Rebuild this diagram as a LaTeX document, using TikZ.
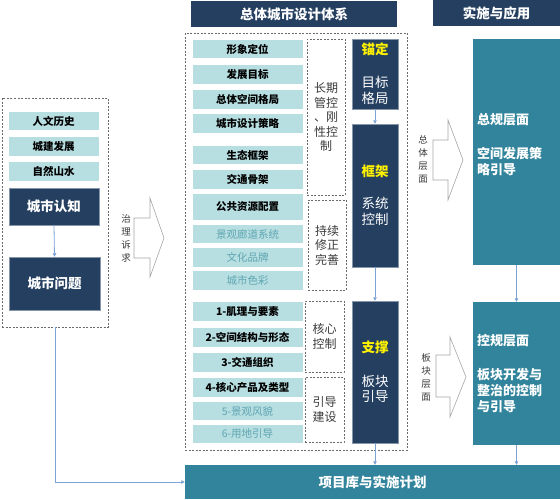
\documentclass[tikz,border=0pt]{standalone}
\usepackage{fontspec}
\setmainfont{Noto Sans CJK SC}
\usetikzlibrary{arrows.meta}
\definecolor{navy}{HTML}{243F60}
\definecolor{lightc}{HTML}{B7DEE1}
\definecolor{tealc}{HTML}{31849B}
\definecolor{graytxt}{HTML}{5FA6B3}
\definecolor{connc}{HTML}{7DA3D6}
\definecolor{dashc}{HTML}{6A6A6A}
\definecolor{arrc}{HTML}{A6A6A6}
\definecolor{labc}{HTML}{3A3A3A}
\begin{document}
\begin{tikzpicture}[x=1pt,y=-1pt,
  lt/.style={fill=lightc, draw=white, line width=0.6pt, inner sep=0pt,
    minimum width=111pt, minimum height=19.5pt,
    font=\fontsize{10.5}{12}\selectfont\bfseries},
  ltl/.style={lt, minimum width=91pt},
  soft/.style={text=graytxt, font=\fontsize{10.5}{12}\selectfont},
  dk/.style={fill=navy, draw=navy!55!white, line width=0.5pt, inner sep=0pt,
    text=white, align=center},
  hdr/.style={fill=navy, inner sep=0pt, text=white,
    font=\fontsize{13.5}{15}\selectfont\bfseries},
  tl/.style={fill=tealc, inner sep=0pt},
  dsh/.style={draw=dashc, dash pattern=on 2pt off 1.5pt, line width=0.6pt, inner sep=0pt},
  dlab/.style={dsh, align=center, text=labc, font=\fontsize{12}{14.5}\selectfont},
  ttx/.style={text=white, align=left, inner sep=0pt,
    font=\fontsize{13}{16}\selectfont\bfseries},
  alab/.style={text=labc, align=center, inner sep=0pt,
    font=\fontsize{9.5}{13}\selectfont},
  blk/.style={draw=arrc, fill=white, line width=0.6pt, line join=miter},
  cn/.style={draw=connc, line width=0.8pt, -{Triangle[length=3.5pt,width=3.5pt]}}
]
\useasboundingbox (0,0) rectangle (560,499);

% ---------- headers ----------
\node[hdr, minimum width=206pt, minimum height=26pt] (H1) at (294,14) {总体城市设计体系};
\node[hdr, minimum width=127pt, minimum height=26pt] (H2) at (496.5,13) {实施与应用};

% ---------- left block ----------
\node[dsh, minimum width=106pt, minimum height=229pt] (lbox) at (55,212.5) {};
\node[ltl] (h1) at (53.5,121) {人文历史};
\node[ltl] (h2) at (53.5,146.5) {城建发展};
\node[ltl] (h3) at (53.5,171.5) {自然山水};
\node[dk, minimum width=90pt, minimum height=37pt, font=\fontsize{13.5}{15}\selectfont\bfseries] (rz) at (54,206.5) {城市认知};
\node[dk, minimum width=91pt, minimum height=53pt, font=\fontsize{13.5}{15}\selectfont\bfseries] (wt) at (54.5,283.5) {城市问题};
\draw[cn] (rz.south) -- (wt.north);

% 治理诉求 arrow
\draw[blk] (134,218) -- (150,218) -- (150,198) -- (164,238) -- (150,277) -- (150,258) -- (134,258) -- cycle;
\node[alab] (zl) at (126,238) {治\\理\\诉\\求};

% ---------- middle block ----------
\node[dsh, minimum width=222pt, minimum height=417pt] (mid) at (296,241.5) {};
\node[lt] (m1) at (247.5,49) {形象定位};
\node[lt] (m2) at (247.5,74.5) {发展目标};
\node[lt] (m3) at (247.5,99.5) {总体空间格局};
\node[lt] (m4) at (247.5,123.5) {城市设计策略};
\node[lt] (m5) at (247.5,155) {生态框架};
\node[lt] (m6) at (247.5,179.5) {交通骨架};
\node[lt, minimum height=27pt] (m7) at (247.5,206.5) {公共资源配置};
\node[lt, soft] (m8) at (247.5,234) {景观廊道系统};
\node[lt, soft] (m9) at (247.5,257.5) {文化品牌};
\node[lt, soft] (m10) at (247.5,280.5) {城市色彩};
\node[lt] (m11) at (247.5,311.5) {1-肌理与要素};
\node[lt] (m12) at (247.5,337.5) {2-空间结构与形态};
\node[lt] (m13) at (247.5,362.5) {3-交通组织};
\node[lt] (m14) at (247.5,387.5) {4-核心产品及类型};
\node[lt, soft] (m15) at (247.5,411) {5-景观风貌};
\node[lt, soft] (m16) at (247.5,434) {6-用地引导};

\node[dlab, minimum width=38pt, minimum height=156pt] (d1) at (326,117) {长期\\管控\\、刚\\性控\\制};
\node[dlab, minimum width=38pt, minimum height=90pt] (d2) at (327,245) {持续\\修正\\完善};
\node[dlab, minimum width=39pt, minimum height=71pt] (d3) at (324.5,336.5) {核心\\控制};
\node[dlab, minimum width=39pt, minimum height=65pt] (d4) at (324.5,409.5) {引导\\建设};

\node[dk, minimum width=46pt, minimum height=70pt, font=\fontsize{13.5}{16.5}\selectfont] (k1) at (375,74)
  {\textcolor{yellow}{\bfseries 锚定}\\[16pt]目标\\格局};
\node[dk, minimum width=46pt, minimum height=143pt, font=\fontsize{13.5}{16}\selectfont] (k2) at (375,195.5)
  {\textcolor{yellow}{\bfseries 框架}\\[16pt]系统\\控制};
\node[dk, minimum width=46pt, minimum height=142pt, font=\fontsize{13.5}{15.5}\selectfont] (k3) at (375,372)
  {\textcolor{yellow}{\bfseries 支撑}\\[18pt]板块\\引导};
\draw[cn] (k1.south) -- (k2.north);
\draw[cn] (k2.south) -- (k3.north);

% ---------- right block ----------
\node[tl, minimum width=87pt, minimum height=226pt] (t1) at (516.5,152) {};
\node[tl, minimum width=87pt, minimum height=143pt] (t2) at (516.5,373.5) {};
\node[ttx, anchor=west] (t1x) at (477,145) {总规层面\\[18pt]空间发展策\\略引导};
\node[ttx, anchor=west] (t2x) at (477,374) {控规层面\\[18pt]板块开发与\\整治的控制\\与引导};
\draw[cn] (t1.south) -- (t2.north);

% 总体层面 arrow
\draw[blk] (433,140) -- (448,140) -- (448,120) -- (463,160) -- (448,200) -- (448,180) -- (433,180) -- cycle;
\node[alab] (zt) at (423,159) {总\\体\\层\\面};
% 板块层面 arrow
\draw[blk] (436,355) -- (450,355) -- (450,337) -- (466,377) -- (450,417) -- (450,397) -- (436,397) -- cycle;
\node[alab] (bk) at (426,377) {板\\块\\层\\面};

% ---------- bottom ----------
\node[tl, minimum width=375pt, minimum height=34pt, text=white,
  font=\fontsize{13.5}{15}\selectfont\bfseries] (proj) at (372.5,482) {项目库与实施计划};
\draw[cn] (k3.south) -- (k3.south |- proj.north);
\draw[cn] (t2.south) -- (t2.south |- proj.north);
\draw[cn] (lbox.south) |- (proj.west);
\end{tikzpicture}
\end{document}
